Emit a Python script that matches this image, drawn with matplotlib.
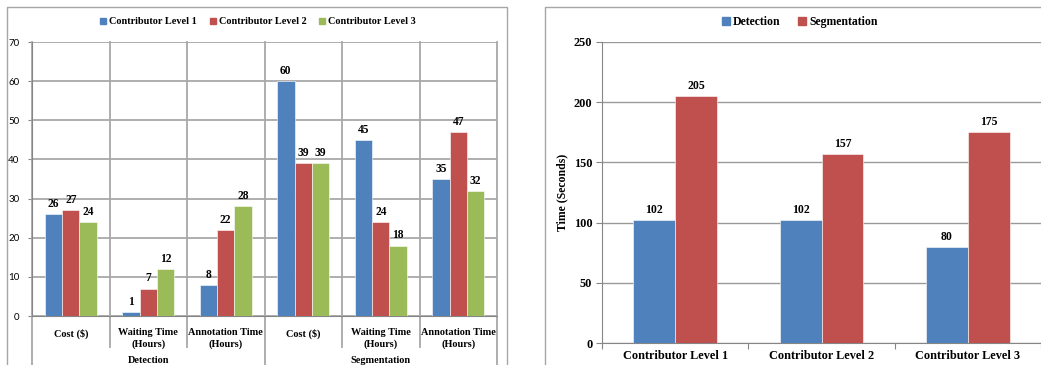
import matplotlib.pyplot as plt
import numpy as np
from matplotlib.lines import Line2D
from matplotlib.patches import Patch

# data
categories = ['Cost ($)', 'Waiting Time\n(Hours)', 'Annotation Time\n(Hours)',
              'Cost ($)', 'Waiting Time\n(Hours)', 'Annotation Time\n(Hours)']
groups = ['Detection', 'Segmentation']
level1 = [26, 1, 8, 60, 45, 35]
level2 = [27, 7, 22, 39, 24, 47]
level3 = [24, 12, 28, 39, 18, 32]
levels = ['Contributor Level 1', 'Contributor Level 2', 'Contributor Level 3']
time_detection = [102, 102, 80]
time_segmentation = [205, 157, 175]

BLUE, RED, GREEN = '#4F81BD', '#C0504D', '#9BBB59'
GRID = '#a8a8a8'
SERIF = 'Liberation Serif'

W, H = 1041, 365
fig = plt.figure(figsize=(W / 100, H / 100), dpi=100)


def px_axes(x0, y0, x1, y1):
    return fig.add_axes([x0 / W, 1 - y1 / H, (x1 - x0) / W, (y1 - y0) / H])


def fig_line(xs, ys, **kw):
    fig.add_artist(Line2D([x / W for x in xs], [1 - y / H for y in ys],
                          transform=fig.transFigure, clip_on=False, **kw))


# panel borders
fig_line([7, 7, 507, 507], [370, 7, 7, 370], color='#a6a6a6', lw=1)
fig_line([545, 545, 1045], [370, 7, 7], color='#a6a6a6', lw=1)

# ---- left chart ----
ax = px_axes(32, 42, 497, 316)
x = np.arange(len(categories))
w = 0.225
for off, vals, c in zip([-w, 0, w], [level1, level2, level3], [BLUE, RED, GREEN]):
    b = ax.bar(x + off, vals, w, color=c, edgecolor='white', linewidth=0.4, zorder=3)
    ax.bar_label(b, padding=3, fontsize=8.3, fontweight='bold', family=SERIF)
ax.set_xlim(-0.5, 5.5)
ax.set_ylim(0, 70)
ax.set_yticks(range(0, 71, 10))
ax.yaxis.grid(True, color=GRID, lw=1.3)
ax.set_axisbelow(True)
for s in ['top', 'right']:
    ax.spines[s].set_visible(False)
for s in ['left', 'bottom']:
    ax.spines[s].set_color('#868686')
ax.tick_params(axis='y', length=3, color='#868686', labelsize=7, pad=6)
for lab in ax.get_yticklabels():
    lab.set_family('Lato')
ax.set_xticks([])
tr = ax.get_xaxis_transform()
for xb in np.arange(-0.5, 6, 1):
    low = -0.18 if xb in (-0.5, 2.5, 5.5) else -0.113
    ax.plot([xb, xb], [1, low], transform=tr, color=GRID, lw=1.3,
            clip_on=False, zorder=1)
for xi, cat in zip(x, categories):
    ax.text(xi, -0.045, cat, transform=tr, ha='center', va='top', fontsize=7.4,
            fontweight='bold', family=SERIF, linespacing=1.25)
for gi, g in enumerate(groups):
    ax.text(1 + 3 * gi, -0.145, g, transform=tr, ha='center', va='top',
            fontsize=7.4, fontweight='bold', family=SERIF)

handles = [Patch(color=c) for c in [BLUE, RED, GREEN]]
fig.legend(handles, levels, loc='center', bbox_to_anchor=(258 / W, 1 - 22 / H),
           ncol=3, frameon=False, handlelength=0.6, handleheight=0.6,
           handletextpad=0.3, columnspacing=1.2,
           prop={'family': SERIF, 'weight': 'bold', 'size': 7.4})

# ---- right chart ----
ax2 = px_axes(602, 42, 1041, 343)
x2 = np.arange(len(levels))
w2 = 0.285
b1 = ax2.bar(x2 - w2 / 2, time_detection, w2, color=BLUE, edgecolor='white',
             linewidth=0.4, zorder=3)
b2 = ax2.bar(x2 + w2 / 2, time_segmentation, w2, color=RED, edgecolor='white',
             linewidth=0.4, zorder=3)
for b in (b1, b2):
    ax2.bar_label(b, padding=3, fontsize=8.5, fontweight='bold', family=SERIF)
ax2.set_xlim(-0.5, 2.5)
ax2.set_ylim(0, 250)
ax2.set_yticks(range(0, 251, 50))
ax2.yaxis.grid(True, color='#9a9a9a', lw=1)
ax2.set_axisbelow(True)
for s in ['top', 'right']:
    ax2.spines[s].set_visible(False)
for s in ['left', 'bottom']:
    ax2.spines[s].set_color('#868686')
ax2.set_xticks(np.arange(-0.5, 3, 1))
ax2.set_xticklabels([])
ax2.set_xticks(x2, minor=True)
ax2.set_xticklabels(levels, minor=True)
ax2.tick_params(axis='x', which='major', length=4, color='#868686')
ax2.tick_params(axis='x', which='minor', length=0, pad=5)
ax2.tick_params(axis='y', length=4, color='#868686', pad=3)
for lab in ax2.get_yticklabels() + ax2.get_xticklabels(minor=True):
    lab.set_family(SERIF)
    lab.set_fontweight('bold')
    lab.set_fontsize(8.8)
ax2.set_ylabel('Time (Seconds)', family=SERIF, fontweight='bold', fontsize=8.5,
               labelpad=4)

fig.legend([Patch(color=BLUE), Patch(color=RED)], ['Detection', 'Segmentation'],
           loc='center', bbox_to_anchor=(800 / W, 1 - 22 / H), ncol=2,
           frameon=False, handlelength=0.6, handleheight=0.6,
           handletextpad=0.3, columnspacing=1.5,
           prop={'family': SERIF, 'weight': 'bold', 'size': 8.5})

fig.savefig('out.png', dpi=100)
